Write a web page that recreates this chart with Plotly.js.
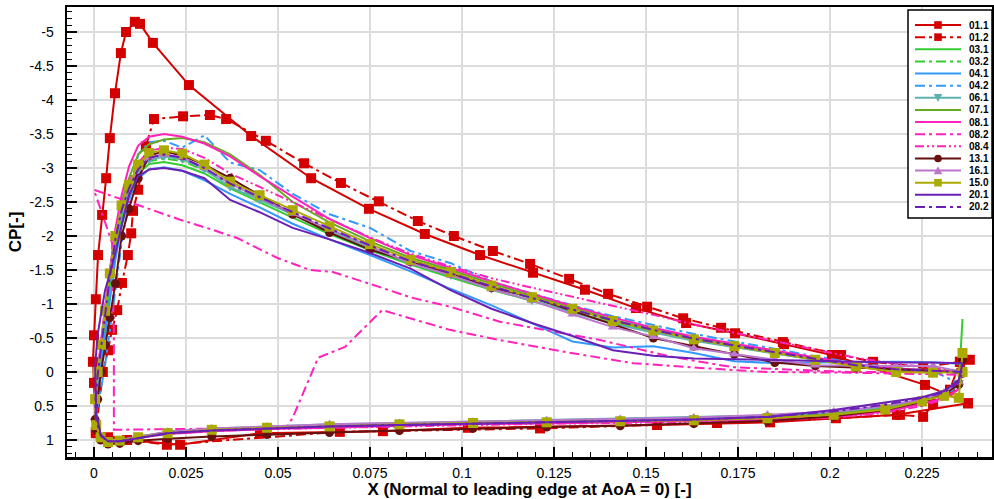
<!DOCTYPE html>
<html><head><meta charset="utf-8">
<script src="https://cdn.plot.ly/plotly-3.0.1.min.js"></script>
<style>html,body{margin:0;padding:0;background:#fff}#chart{width:994px;height:499px}</style>
</head><body><div id="chart"></div>
<script>
// ---------------- DATA ----------------
const seriesNames = ["01.1","01.2","03.1","03.2","04.1","04.2","06.1","07.1","08.1","08.2","08.4","13.1","16.1","15.0","20.1","20.2"];

const xTickVals = [0, 0.025, 0.05, 0.075, 0.1, 0.125, 0.15, 0.175, 0.2, 0.225];
const xTickText = ["0", "0.025", "0.05", "0.075", "0.1", "0.125", "0.15", "0.175", "0.2", "0.225"];
const yTickVals = [-5, -4.5, -4, -3.5, -3, -2.5, -2, -1.5, -1, -0.5, 0, 0.5, 1];
const yTickText = ["-5", "-4.5", "-4", "-3.5", "-3", "-2.5", "-2", "-1.5", "-1", "-0.5", "0", "0.5", "1"];

// shared chordwise stations: upper surface (TE -> LE), lower surface (LE -> TE)
const xUpper = [0.236, 0.228, 0.218, 0.207, 0.196, 0.185, 0.174, 0.163, 0.152, 0.141, 0.130, 0.119, 0.108, 0.097, 0.086, 0.075, 0.064, 0.054, 0.045, 0.037, 0.030, 0.024, 0.019, 0.015, 0.012, 0.0095, 0.0075, 0.0058, 0.0043, 0.003, 0.0019, 0.001, 0.0003];
const xLower = [0.0006, 0.0018, 0.0038, 0.007, 0.012, 0.02, 0.032, 0.047, 0.064, 0.083, 0.103, 0.123, 0.143, 0.163, 0.183, 0.201, 0.215, 0.225, 0.231, 0.235, 0.236];

// 01.1, 01.2 and 08.2 have their own stations
const x_01_1 = [0.2375, 0.2258, 0.2005, 0.1875, 0.1742, 0.1609, 0.1473, 0.1334, 0.1193, 0.1049, 0.0899, 0.0747, 0.0590, 0.0427, 0.0258, 0.0160, 0.0125, 0.0111, 0.0087, 0.0073, 0.0057, 0.0043, 0.0033, 0.0022, 0.0011, 0.0005, 0.0, -0.0003, 0.0, 0.0005, 0.009, 0.0234, 0.0451, 0.0785, 0.1016, 0.1530, 0.1837, 0.2182, 0.2375];
const cp_01_1 = [0.46, 0.19, -0.25, -0.41, -0.57, -0.72, -0.94, -1.21, -1.46, -1.72, -2.03, -2.40, -2.85, -3.47, -4.22, -4.84, -5.12, -5.15, -5.0, -4.69, -4.10, -3.44, -2.85, -2.31, -1.72, -1.07, -0.54, -0.15, 0.16, 0.90, 1.0, 1.07, 0.90, 0.87, 0.82, 0.78, 0.74, 0.63, 0.46];

const x_01_2 = [0.2380, 0.2353, 0.2253, 0.2117, 0.2030, 0.1872, 0.1704, 0.1601, 0.1503, 0.1397, 0.1291, 0.1185, 0.1084, 0.0978, 0.0880, 0.0774, 0.0671, 0.0571, 0.0467, 0.0359, 0.0315, 0.0242, 0.0163, 0.0141, 0.0120, 0.0106, 0.0101, 0.0092, 0.0076, 0.0063, 0.0049, 0.0038, 0.0024, 0.0005, 0.0038, 0.0198, 0.0668, 0.1212, 0.1693, 0.2016, 0.2190, 0.2253, 0.2280, 0.2326, 0.2353];
const cp_01_2 = [-0.18, -0.15, -0.07, -0.15, -0.25, -0.44, -0.65, -0.79, -0.96, -1.15, -1.37, -1.59, -1.78, -2.0, -2.22, -2.51, -2.78, -3.07, -3.40, -3.72, -3.78, -3.76, -3.72, -3.32, -2.68, -2.37, -2.04, -1.72, -1.31, -0.91, -0.62, -0.32, 0.0, 0.88, 0.96, 1.07, 0.88, 0.83, 0.75, 0.68, 0.63, 0.66, 0.47, 0.26, -0.15];

const x_08_2 = [0.2353, 0.2054, 0.1736, 0.1573, 0.1375, 0.1103, 0.0967, 0.0859, 0.0742, 0.0649, 0.0587, 0.0497, 0.0389, 0.0323, 0.0234, 0.0144, 0.0, 0.0049, 0.0054, 0.0054, 0.0524, 0.0541, 0.0609, 0.0682, 0.0783, 0.0967, 0.1103, 0.1285, 0.1465, 0.1647, 0.1829, 0.2054, 0.2353];
const cp_08_2 = [0.0, 0.0, -0.07, -0.22, -0.47, -0.74, -0.96, -1.10, -1.31, -1.47, -1.50, -1.68, -1.97, -2.09, -2.24, -2.41, -2.68, -1.90, -0.57, 0.85, 0.82, 0.66, -0.21, -0.37, -0.91, -0.62, -0.47, -0.29, -0.13, -0.06, 0.0, 0.01, 0.04];

// upper (33 values on xUpper) and lower (21 values on xLower)
const up_03_1 = [-0.02, -0.02, -0.03, -0.09, -0.18, -0.28, -0.37, -0.47, -0.59, -0.72, -0.88, -1.04, -1.21, -1.39, -1.58, -1.79, -2.03, -2.27, -2.50, -2.70, -2.92, -3.04, -3.09, -3.06, -2.92, -2.62, -2.25, -1.8, -1.2, -0.7, -0.25, 0.1, 0.45];
const lo_03_1 = [0.8, 0.97, 1.03, 1.01, 0.95, 0.89, 0.85, 0.82, 0.79, 0.77, 0.75, 0.73, 0.72, 0.70, 0.67, 0.62, 0.54, 0.42, 0.32, 0.18, -0.78];
const up_03_2 = [0.0, -0.03, -0.05, -0.11, -0.2, -0.3, -0.4, -0.5, -0.62, -0.75, -0.91, -1.08, -1.25, -1.43, -1.62, -1.84, -2.08, -2.32, -2.55, -2.75, -2.97, -3.1, -3.14, -3.1, -2.96, -2.66, -2.3, -1.85, -1.25, -0.75, -0.3, 0.08, 0.45];
const lo_03_2 = [0.8, 0.97, 1.03, 1.01, 0.95, 0.89, 0.85, 0.82, 0.80, 0.77, 0.75, 0.74, 0.72, 0.70, 0.67, 0.62, 0.54, 0.42, 0.32, 0.18, 0.0];
const up_04_1 = [-0.12, -0.14, -0.15, -0.15, -0.14, -0.13, -0.16, -0.28, -0.38, -0.36, -0.45, -0.72, -0.98, -1.22, -1.48, -1.72, -1.95, -2.18, -2.42, -2.62, -2.82, -2.96, -3.01, -2.98, -2.85, -2.55, -2.15, -1.65, -1.05, -0.55, -0.1, 0.25, 0.55];
const lo_04_1 = [0.7, 0.94, 1.03, 1.02, 0.96, 0.89, 0.85, 0.82, 0.80, 0.77, 0.75, 0.73, 0.72, 0.70, 0.67, 0.61, 0.53, 0.42, 0.33, 0.2, -0.35];
const up_04_2 = [0.2, -0.02, -0.06, -0.13, -0.23, -0.34, -0.45, -0.56, -0.69, -0.82, -0.98, -1.16, -1.33, -1.60, -1.78, -2.12, -2.32, -2.62, -2.97, -3.08, -3.48, -3.30, -3.40, -3.38, -3.2, -2.5, -1.9, -1.2, -0.6, -0.1, 0.25, 0.5, 0.7];
const lo_04_2 = [0.85, 0.98, 1.03, 1.01, 0.96, 0.90, 0.85, 0.82, 0.79, 0.76, 0.74, 0.72, 0.71, 0.69, 0.65, 0.6, 0.5, 0.4, 0.3, 0.25, 0.2];
const up_06_1 = [0.0, 0.0, -0.02, -0.09, -0.18, -0.27, -0.36, -0.46, -0.58, -0.71, -0.88, -1.05, -1.22, -1.42, -1.6, -1.83, -2.08, -2.32, -2.53, -2.72, -2.98, -3.13, -3.17, -3.12, -2.95, -2.68, -2.38, -1.95, -1.4, -0.85, -0.35, 0.05, 0.45];
const lo_06_1 = [0.75, 0.95, 1.02, 1.0, 0.95, 0.88, 0.83, 0.80, 0.77, 0.75, 0.73, 0.71, 0.69, 0.67, 0.64, 0.6, 0.52, 0.4, 0.3, 0.15, 0.0];
const up_07_1 = [0.0, 0.0, -0.02, -0.1, -0.2, -0.3, -0.4, -0.5, -0.63, -0.77, -0.95, -1.13, -1.30, -1.5, -1.68, -1.92, -2.2, -2.5, -2.9, -3.2, -3.38, -3.44, -3.42, -3.35, -3.2, -2.85, -2.5, -2.05, -1.5, -0.92, -0.42, 0.0, 0.4];
const lo_07_1 = [0.78, 0.96, 1.03, 1.01, 0.96, 0.89, 0.85, 0.82, 0.80, 0.77, 0.75, 0.74, 0.72, 0.70, 0.67, 0.62, 0.54, 0.42, 0.32, 0.18, 0.0];
const up_08_1 = [0.0, -0.02, -0.05, -0.11, -0.21, -0.31, -0.41, -0.52, -0.65, -0.80, -0.97, -1.15, -1.33, -1.53, -1.72, -1.97, -2.25, -2.58, -2.88, -3.17, -3.36, -3.46, -3.50, -3.46, -3.33, -3.02, -2.6, -2.1, -1.5, -0.95, -0.45, -0.05, 0.35];
const lo_08_1 = [0.8, 0.97, 1.04, 1.02, 0.97, 0.91, 0.87, 0.84, 0.82, 0.79, 0.77, 0.76, 0.74, 0.72, 0.70, 0.66, 0.58, 0.47, 0.38, 0.25, 0.0];
const up_08_4 = [0.0, -0.06, -0.12, -0.21, -0.33, -0.45, -0.57, -0.70, -0.84, -0.97, -1.10, -1.24, -1.38, -1.55, -1.74, -1.98, -2.25, -2.5, -2.72, -2.92, -3.15, -3.28, -3.3, -3.25, -3.08, -2.78, -2.45, -2.0, -1.45, -0.9, -0.4, 0.0, 0.4];
const lo_08_4 = [0.8, 0.97, 1.04, 1.02, 0.97, 0.91, 0.87, 0.84, 0.82, 0.80, 0.78, 0.76, 0.75, 0.73, 0.71, 0.67, 0.6, 0.5, 0.4, 0.25, 0.0];
const up_13_1 = [0.02, -0.02, -0.04, -0.06, -0.09, -0.14, -0.26, -0.38, -0.50, -0.70, -0.90, -1.10, -1.24, -1.45, -1.62, -1.80, -2.05, -2.32, -2.6, -2.85, -3.05, -3.18, -3.25, -3.18, -2.85, -2.4, -2.0, -1.3, -0.8, -0.4, 0.0, 0.4, 0.7];
const lo_13_1 = [0.85, 1.0, 1.06, 1.05, 1.01, 0.98, 0.95, 0.92, 0.89, 0.86, 0.83, 0.81, 0.79, 0.76, 0.72, 0.65, 0.56, 0.44, 0.33, 0.18, -0.18];
const up_16_1 = [0.0, -0.09, -0.09, -0.1, -0.1, -0.18, -0.26, -0.35, -0.52, -0.66, -0.85, -1.05, -1.22, -1.42, -1.60, -1.85, -2.1, -2.33, -2.56, -2.77, -3.0, -3.16, -3.2, -3.16, -3.0, -2.72, -2.42, -2.0, -1.45, -0.9, -0.42, -0.02, 0.35];
const lo_16_1 = [0.8, 0.96, 1.02, 1.0, 0.95, 0.88, 0.83, 0.80, 0.77, 0.75, 0.73, 0.71, 0.69, 0.67, 0.63, 0.58, 0.5, 0.4, 0.3, 0.15, 0.0];
const up_15_0 = [0.0, 0.01, 0.0, -0.08, -0.18, -0.28, -0.38, -0.48, -0.61, -0.75, -0.93, -1.10, -1.27, -1.47, -1.65, -1.88, -2.14, -2.38, -2.60, -2.80, -3.05, -3.21, -3.26, -3.22, -3.05, -2.75, -2.45, -2.0, -1.45, -0.9, -0.4, 0.0, 0.4];
const lo_15_0 = [0.78, 0.96, 1.03, 1.01, 0.96, 0.90, 0.85, 0.82, 0.80, 0.77, 0.75, 0.74, 0.725, 0.71, 0.68, 0.63, 0.55, 0.43, 0.35, 0.38, -0.28];
const up_20_1 = [-0.13, -0.14, -0.14, -0.15, -0.16, -0.17, -0.18, -0.20, -0.24, -0.32, -0.53, -0.72, -0.93, -1.2, -1.52, -1.75, -1.95, -2.12, -2.35, -2.53, -2.85, -2.96, -3.0, -2.98, -2.88, -2.6, -2.15, -1.75, -1.45, -1.2, -0.85, -0.55, -0.1];
const lo_20_1 = [0.6, 0.92, 1.02, 1.02, 0.97, 0.90, 0.86, 0.83, 0.80, 0.78, 0.76, 0.74, 0.72, 0.70, 0.66, 0.56, 0.45, 0.37, 0.28, 0.12, -0.13];
const up_20_2 = [0.0, -0.02, -0.04, -0.1, -0.19, -0.29, -0.39, -0.49, -0.62, -0.76, -0.92, -1.09, -1.26, -1.45, -1.63, -1.86, -2.11, -2.35, -2.57, -2.77, -3.0, -3.15, -3.2, -3.15, -2.98, -2.7, -2.38, -1.95, -1.4, -0.85, -0.35, 0.05, 0.45];
const lo_20_2 = [0.7, 0.94, 1.02, 1.02, 0.97, 0.90, 0.86, 0.83, 0.80, 0.78, 0.76, 0.74, 0.72, 0.70, 0.66, 0.58, 0.48, 0.38, 0.3, 0.15, 0.0];

// ---------------- STYLE ----------------
const DASHDOT = "10px,4px,3px,4px";
const DASHDOTDOT = "9px,3px,2px,3px,2px,3px";
const styles = {
  "01.1": {color: "#d40000", dash: "solid", symbol: "square", size: 10},
  "01.2": {color: "#d40000", dash: DASHDOT, symbol: "square", size: 10},
  "03.1": {color: "#33cc33", dash: "solid"},
  "03.2": {color: "#33cc33", dash: DASHDOT},
  "04.1": {color: "#3399ff", dash: "solid"},
  "04.2": {color: "#3399ff", dash: DASHDOT},
  "06.1": {color: "#5fb0b0", dash: "solid", symbol: "triangle-down", size: 9},
  "07.1": {color: "#66aa22", dash: "solid"},
  "08.1": {color: "#ff22bb", dash: "solid"},
  "08.2": {color: "#ff22bb", dash: DASHDOT},
  "08.4": {color: "#ff22bb", dash: DASHDOTDOT},
  "13.1": {color: "#661010", dash: "solid", symbol: "circle", size: 9},
  "16.1": {color: "#bb77cc", dash: "solid", symbol: "triangle-up", size: 9},
  "15.0": {color: "#aaaa00", dash: "solid", symbol: "square", size: 10},
  "20.1": {color: "#6a1fb5", dash: "solid"},
  "20.2": {color: "#6a1fb5", dash: DASHDOT}
};

const seriesData = {
  "01.1": [x_01_1, cp_01_1],
  "01.2": [x_01_2, cp_01_2],
  "03.1": [xUpper.concat(xLower), up_03_1.concat(lo_03_1)],
  "03.2": [xUpper.concat(xLower), up_03_2.concat(lo_03_2)],
  "04.1": [xUpper.concat(xLower), up_04_1.concat(lo_04_1)],
  "04.2": [xUpper.concat(xLower), up_04_2.concat(lo_04_2)],
  "06.1": [xUpper.concat(xLower), up_06_1.concat(lo_06_1)],
  "07.1": [xUpper.concat(xLower), up_07_1.concat(lo_07_1)],
  "08.1": [xUpper.concat(xLower), up_08_1.concat(lo_08_1)],
  "08.2": [x_08_2, cp_08_2],
  "08.4": [xUpper.concat(xLower), up_08_4.concat(lo_08_4)],
  "13.1": [xUpper.concat(xLower), up_13_1.concat(lo_13_1)],
  "16.1": [xUpper.concat(xLower), up_16_1.concat(lo_16_1)],
  "15.0": [xUpper.concat(xLower), up_15_0.concat(lo_15_0)],
  "20.1": [xUpper.concat(xLower), up_20_1.concat(lo_20_1)],
  "20.2": [xUpper.concat(xLower), up_20_2.concat(lo_20_2)]
};

const traces = seriesNames.map(function (n) {
  const s = styles[n];
  const t = {
    type: "scatter", name: n, x: seriesData[n][0], y: seriesData[n][1],
    mode: s.symbol ? "lines+markers" : "lines",
    line: {color: s.color, width: 2, dash: s.dash},
    showlegend: false, hoverinfo: "skip"
  };
  if (s.symbol) t.marker = {symbol: s.symbol, size: s.size, color: s.color, line: {width: 0}};
  return t;
});

// ---------------- LAYOUT ----------------
const W = 994, H = 499, ML = 67, MR = 2, MT = 7, MB = 42;
const PW = W - ML - MR, PH = H - MT - MB;
function px(xp) { return (xp - ML) / PW; }
function py(yp) { return (H - MB - yp) / PH; }

const FONT = "Liberation Sans, Arial, Helvetica, sans-serif";
const shapes = [];
const annotations = [];
// custom Tecplot-style legend
shapes.push({type: "rect", xref: "paper", yref: "paper", x0: px(908), x1: px(992), y0: py(218), y1: py(10),
  line: {color: "black", width: 1.5}, fillcolor: "white", layer: "above"});
seriesNames.forEach(function (n, i) {
  const s = styles[n];
  const cy = 25 + i * 12.13;
  shapes.push({type: "line", xref: "paper", yref: "paper", x0: px(915), x1: px(961), y0: py(cy), y1: py(cy),
    line: {color: s.color, width: 2, dash: s.dash}, layer: "above"});
  const mx = 938, r = 3.8;
  if (s.symbol === "square") {
    shapes.push({type: "rect", xref: "paper", yref: "paper", x0: px(mx - r), x1: px(mx + r), y0: py(cy + r), y1: py(cy - r),
      line: {width: 0}, fillcolor: s.color, layer: "above"});
  } else if (s.symbol === "circle") {
    shapes.push({type: "circle", xref: "paper", yref: "paper", x0: px(mx - r), x1: px(mx + r), y0: py(cy + r), y1: py(cy - r),
      line: {width: 0}, fillcolor: s.color, layer: "above"});
  } else if (s.symbol === "triangle-up") {
    shapes.push({type: "path", xref: "paper", yref: "paper",
      path: "M" + px(mx - r - 0.5) + "," + py(cy + r) + " L" + px(mx + r + 0.5) + "," + py(cy + r) + " L" + px(mx) + "," + py(cy - r - 0.5) + " Z",
      line: {width: 0}, fillcolor: s.color, layer: "above"});
  } else if (s.symbol === "triangle-down") {
    shapes.push({type: "path", xref: "paper", yref: "paper",
      path: "M" + px(mx - r - 0.5) + "," + py(cy - r) + " L" + px(mx + r + 0.5) + "," + py(cy - r) + " L" + px(mx) + "," + py(cy + r + 0.5) + " Z",
      line: {width: 0}, fillcolor: s.color, layer: "above"});
  }
  annotations.push({xref: "paper", yref: "paper", x: px(967), y: py(cy), xanchor: "left", yanchor: "middle",
    text: "<b>" + n + "</b>", showarrow: false, font: {family: FONT, size: 10, color: "black"}});
});

const axisCommon = {
  ticks: "inside", ticklen: 10, tickwidth: 1.5, tickcolor: "black",
  showline: true, linecolor: "black", linewidth: 2.5, mirror: true,
  showgrid: true, gridcolor: "#dcdcdc", gridwidth: 1.5, zeroline: false,
  tickfont: {family: FONT, size: 14, color: "black"}, automargin: false
};

const layout = {
  width: W, height: H,
  margin: {l: ML, r: MR, t: MT, b: MB},
  paper_bgcolor: "white", plot_bgcolor: "white",
  showlegend: false,
  xaxis: Object.assign({}, axisCommon, {
    range: [-0.00734, 0.24402], tickmode: "array", tickvals: xTickVals, ticktext: xTickText,
    ticklabelstandoff: 2,
    minor: {tickmode: "linear", tick0: 0, dtick: 0.005, ticks: "inside", ticklen: 5, tickwidth: 1, tickcolor: "black", showgrid: false},
    title: {text: "<b>X (Normal to leading edge at AoA = 0) [-]</b>", font: {family: FONT, size: 17, color: "black"}, standoff: 3}
  }),
  yaxis: Object.assign({}, axisCommon, {
    range: [1.25, -5.368], tickmode: "array", tickvals: yTickVals, ticktext: yTickText,
    ticklabelstandoff: 8,
    minor: {tickmode: "linear", tick0: 0, dtick: 0.1, ticks: "inside", ticklen: 5, tickwidth: 1, tickcolor: "black", showgrid: false},
    title: {text: "<b>CP[-]</b>", font: {family: FONT, size: 17, color: "black"}, standoff: 4}
  }),
  shapes: shapes,
  annotations: annotations
};

Plotly.newPlot("chart", traces, layout, {staticPlot: true, displayModeBar: false});
</script>
</body></html>
